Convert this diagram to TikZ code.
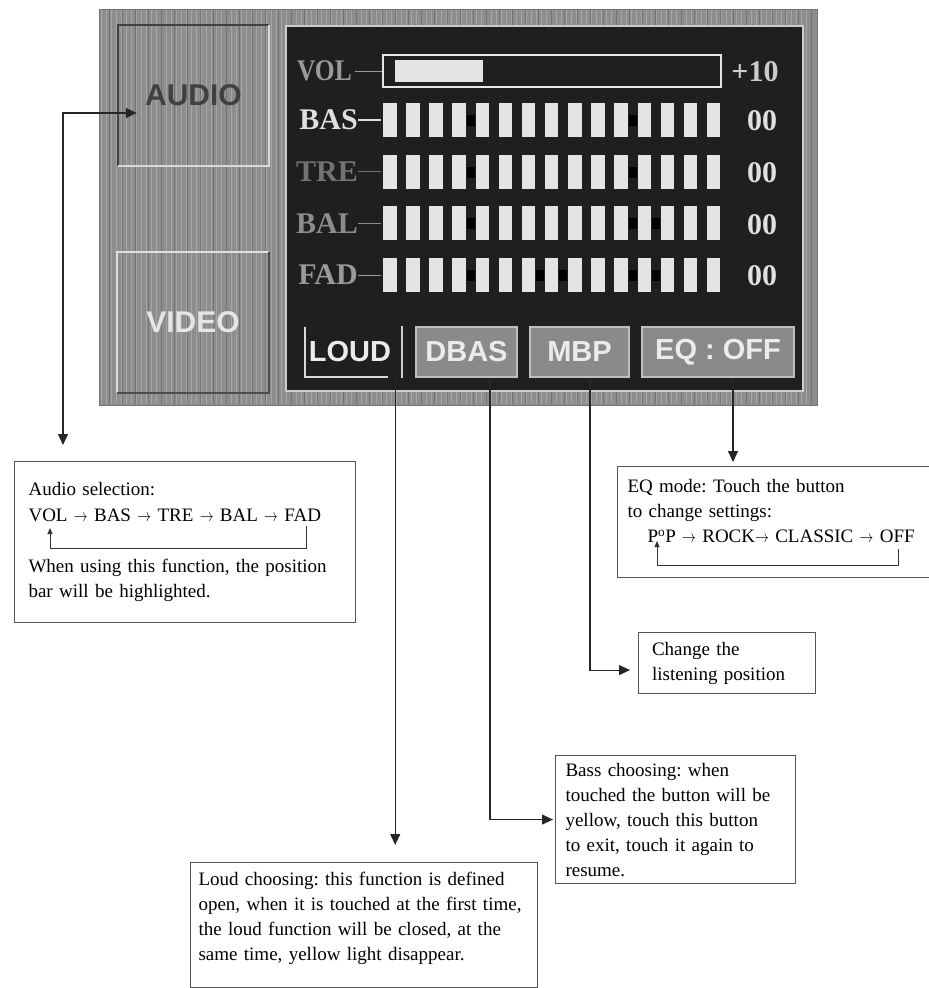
\documentclass[tikz,border=0pt]{standalone}
\usepackage{fontspec}
\setmainfont{Liberation Serif}
\newfontfamily\panelsans{Liberation Sans}
\usepackage{graphicx}
\usetikzlibrary{arrows,arrows.meta,positioning}
\frenchspacing

\definecolor{panelgray}{HTML}{8E8E8E}
\definecolor{screen}{HTML}{1F1F1F}
\definecolor{barwhite}{HTML}{E4E4E4}
\definecolor{dimtext}{HTML}{9A9A9A}
\definecolor{boxline}{HTML}{555555}
\definecolor{btnfill}{HTML}{8A8A8A}

\newcommand{\nxtarrow}{\scalebox{0.8}[1]{$\rightarrow$}}
\newcommand{\nxt}{~\nxtarrow~}

\begin{document}
\begin{tikzpicture}[x=1pt,y=-1pt,>={Triangle[length=11pt,width=10pt]},
    conn/.style={->,line width=1.1pt,draw=black!85},
    tap conn/.style={{Triangle[length=5pt,width=5pt]}->,line width=1.1pt,draw=black!85},
    loop line/.style={-{Triangle[length=6pt,width=5pt]},line width=0.9pt,draw=black!80},
    note box/.style={draw=boxline,line width=1.1pt,anchor=north west,align=left,inner ysep=0pt,font=\fontsize{19}{25}\selectfont},
    side button/.style={minimum width=151pt,minimum height=141pt,inner sep=0pt,font=\panelsans\bfseries\fontsize{30}{30}\selectfont},
    pad button/.style={minimum height=50pt,inner sep=0pt,font=\panelsans\bfseries\fontsize{29}{29}\selectfont,text=white!92!black},
    row label/.style={anchor=east,inner sep=0pt,font=\bfseries\fontsize{30}{30}\selectfont},
    value/.style={inner sep=0pt,text=white!88!black,font=\bfseries\fontsize{30}{30}\selectfont},
    level bar/.style={fill=barwhite},
    streak/.style={line width=0.5pt,draw=panelgray!80!white},
    dark streak/.style={line width=0.6pt,draw=panelgray!80!black}]
  \useasboundingbox (0,0) rectangle (929,988);

  % housing
  \fill[panelgray] (99,9) rectangle (817,405);
  \foreach \x in {101,106,...,815} {\draw[streak] (\x,10) -- (\x,404);}
  \foreach \x in {109,122,...,815} {\draw[dark streak] (\x,10) -- (\x,404);}
  \draw[black!55,line width=1pt] (99,9) rectangle (817,405);

  % source buttons
  \node[side button,text=black!75] (audio) at (193.5,95.5) {AUDIO};
  \draw[black!75,line width=2pt] (audio.south west) |- (audio.north east);
  \draw[white!85!black,line width=2pt] (audio.north east) |- (audio.south west);
  \node[side button,text=white!90!black] (video) at (193,322.5) {VIDEO};
  \draw[white!88!black,line width=2pt] (video.south west) |- (video.north east);
  \draw[black!70,line width=2pt] (video.north east) |- (video.south west);

  % screen
  \draw[fill=screen,draw=white!80!black,line width=2pt] (286,26) rectangle (803,391);
  \node[row label,text=dimtext] (vol) at (352,71) {\scalebox{0.85}[1]{VOL}};
  \node[draw=white!90!black,line width=2pt,minimum width=338pt,minimum height=32pt,inner sep=0pt] (volbar) at (552,71) {};
  \fill[barwhite] (395,60) rectangle (483,82);
  \draw[dimtext,line width=1pt,shorten <=3pt] (vol.east) -- (volbar.west);
  \node[value,text=white!80!black] at (755,72) {+10};
  \foreach \lab/\y/\col [count=\r] in {BAS/120/white!88!black, TRE/171.7/black!55, BAL/223.4/black!45, FAD/275.1/dimtext} {
    \node[row label,text=\col] (row\r) at (358,\y) {\lab};
    \draw[\col,line width=1.2pt] (row\r.east) -- ++(23,0);
    \foreach \i in {0,...,14} {\fill[level bar] (383+23.14*\i,\y-17) rectangle ++(13.5,34);}
    \node[value] at (762,\y+1) {00};
  }
  \foreach \y/\gaps in {120/{3,10}, 171.7/{3,10}, 223.4/{3,10,11}, 275.1/{3,6,7,10,11}} {
    \foreach \g in \gaps {\fill[black] (383+23.14*\g+14.3,\y-5) rectangle ++(8,11);}
  }

  % touch keys
  \node[pad button,minimum width=90pt] (loud) at (350,352) {LOUD};
  \draw[white!85!black,line width=1.5pt] (loud.north west) |- ([xshift=-7pt]loud.south east);
  \draw[white!80!black,line width=1.5pt] (402,326) -- (402,378);
  \node[pad button,minimum width=101pt,fill=btnfill,draw=white!75!black,line width=1.2pt] (dbas) at (466.5,352) {DBAS};
  \node[pad button,minimum width=99pt,fill=btnfill,draw=white!75!black,line width=1.2pt] (mbp) at (579.5,352) {MBP};
  \node[pad button,minimum width=152pt,fill=btnfill,draw=white!75!black,line width=1.2pt] (eq) at (718,352) {EQ : OFF};

  % notes
  \node[note box,font=\fontsize{19}{25.5}\selectfont,inner xsep=14pt,text width=313pt,minimum height=161pt] (audiobox) at (14,461) {Audio selection:\\
    VOL\nxt BAS\nxt TRE\nxt BAL\nxt FAD\\[25.5pt]
    When using this function, the position\\
    bar will be highlighted.};
  \node[note box,inner xsep=10pt,text width=305pt,minimum height=111pt] (eqbox) at (617,466) {EQ mode: Touch the button\\
    to change settings:\\
    \hspace*{20pt}P\textsuperscript{o}P\nxt ROCK\nxtarrow~CLASSIC\nxt OFF\\[-3pt]\mbox{}};
  \node[note box,inner xsep=13.5pt,text width=150pt,minimum height=61pt] (posbox) at (638,632) {Change the\\ listening position};
  \node[note box,inner xsep=10pt,text width=220pt,minimum height=128pt] (bassbox) at (555,755) {Bass choosing: when\\
    touched the button will be\\
    yellow, touch this button\\
    to exit, touch it again to\\
    resume.};
  \node[note box,inner xsep=8pt,text width=331pt,minimum height=125pt] (loudbox) at (190,862) {Loud choosing: this function is defined\\
    open, when it is touched at the first time,\\
    the loud function will be closed, at the\\
    same time, yellow light disappear.\\[-8pt]\mbox{}};

  % loops inside the notes
  \draw[loop line] ([shift={(292,65)}]audiobox.north west) -- ++(0,22) -| ([shift={(36,67)}]audiobox.north west);
  \draw[loop line] ([shift={(281,83)}]eqbox.north west) -- ++(0,16) -| ([shift={(40,75)}]eqbox.north west);

  % connectors
  \coordinate (audiotap) at (63,113);
  \draw[conn,<->,shorten >=16pt] ([xshift=19pt,yshift=-17.5pt]audio.west) -- (audiotap) -- (audiotap |- audiobox.north);
  \draw[conn,shorten >=17pt] (loud.south east) -- (loud.south east |- loudbox.north);
  \draw[tap conn,shorten >=2pt] ([xshift=23.5pt]dbas.south) |- (bassbox.west);
  \draw[tap conn,shorten >=8pt] ([xshift=10.5pt]mbp.south) |- ([yshift=-7pt]posbox.west);
  \draw[tap conn,shorten >=4pt] ([xshift=15pt]eq.south) -- ([xshift=15pt]eq.south |- eqbox.north);
\end{tikzpicture}
\end{document}
